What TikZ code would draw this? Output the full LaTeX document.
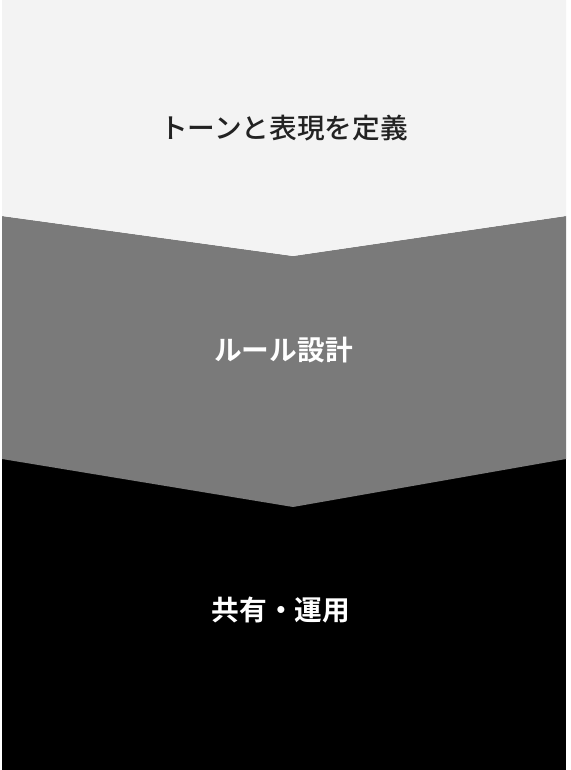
\documentclass[tikz,border=0pt]{standalone}
\usepackage{fontspec}
\newfontfamily\cjkm{Noto Sans CJK JP Medium}
\newfontfamily\cjkb{Noto Sans CJK JP Bold}
\definecolor{lightband}{HTML}{F3F3F3}
\definecolor{midband}{HTML}{7A7A7A}
\definecolor{darkband}{HTML}{000000}
\definecolor{darktext}{HTML}{222222}
\tikzset{
  band/.style={draw=none},
  lbl/.style={font=\cjkm\fontsize{27.7}{33}\selectfont, inner sep=0pt},
  lblb/.style={font=\cjkb\fontsize{27.7}{33}\selectfont, inner sep=0pt, text=white}
}
\begin{document}
\begin{tikzpicture}[x=1pt,y=1pt]
\useasboundingbox (0,0) rectangle (570,770);
\fill[white] (0,0) rectangle (570,770);
% bottom band (black)
\fill[darkband, band] (2,0) rectangle (566,770-459);
\fill[darkband, band] (2,770-459) -- (293,770-507) -- (566,770-459) -- cycle;
% middle band
\fill[midband, band] (2,770-459) -- (293,770-507) -- (566,770-459) -- (566,770-216) -- (293,770-256) -- (2,770-216) -- cycle;
% top band
\fill[lightband, band] (2,770) -- (566,770) -- (566,770-216) -- (293,770-256) -- (2,770-216) -- cycle;
\node[lbl, text=darktext] (t1) at (284,770-128) {トーンと表現を定義};
\node[lblb] (t2) at (283.5,770-350) {ルール設計};
\node[lblb] (t3) at (281,770-610) {共有・運用};
\end{tikzpicture}
\end{document}
